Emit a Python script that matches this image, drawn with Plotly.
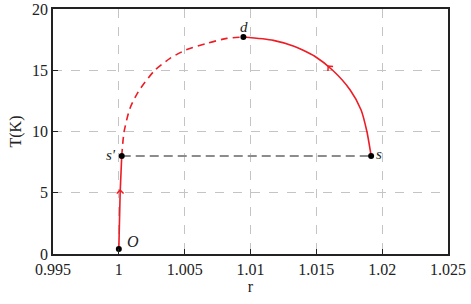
import plotly.graph_objects as go

# O -> s' (solid, rising)
r_os = [1.0000, 1.00005, 1.0001, 1.00022]
T_os = [0.41, 3.0, 5.0, 8.0]

# s' -> d (dashed)
r_sd = [1.00022, 1.0004, 1.00085, 1.00148, 1.0027, 1.00389, 1.00508, 1.00668, 1.0082, 1.00946]
T_sd = [8.0, 9.98, 11.9, 13.25, 14.96, 15.97, 16.65, 17.2, 17.6, 17.71]

# d -> s (solid)
r_ds = [1.00946, 1.01174, 1.0133, 1.01396, 1.01488, 1.01622, 1.01757, 1.0184, 1.01884, 1.01909, 1.01916]
T_ds = [17.71, 17.44, 16.96, 16.65, 16.14, 15.02, 13.39, 11.76, 10.0, 8.49, 8.0]

# s' -- s (horizontal gray dashed)
r_h = [1.00022, 1.01916]
T_h = [8.0, 8.0]

# labelled points
pt_names = ["O", "s'", "d", "s"]
pt_r = [1.0000, 1.00022, 1.00946, 1.01916]
pt_T = [0.41, 8.0, 17.71, 8.0]

x_ticks = [0.995, 1, 1.005, 1.01, 1.015, 1.02, 1.025]
x_tick_text = ["0.995", "1", "1.005", "1.01", "1.015", "1.02", "1.025"]
y_ticks = [0, 5, 10, 15, 20]

red = "#ee1c25"
fig = go.Figure()
fig.add_trace(go.Scatter(x=r_h, y=T_h, mode="lines",
                         line=dict(color="#8c8c8c", width=2, dash="9px,5px")))
fig.add_trace(go.Scatter(x=r_os, y=T_os, mode="lines",
                         line=dict(color=red, width=1.6)))
fig.add_trace(go.Scatter(x=r_sd, y=T_sd, mode="lines", line_shape="spline",
                         line=dict(color=red, width=1.6, dash="7px,5px", smoothing=0.7)))
fig.add_trace(go.Scatter(x=r_ds, y=T_ds, mode="lines", line_shape="spline",
                         line=dict(color=red, width=1.6, smoothing=0.7)))
fig.add_trace(go.Scatter(x=pt_r, y=pt_T, mode="markers",
                         marker=dict(color="black", size=6)))

font_serif = "Liberation Serif"
tc = "#222"
fig.add_annotation(x=pt_r[0], y=pt_T[0], text="<i>O</i>", showarrow=False,
                   xshift=14, yshift=7, font=dict(size=16, family=font_serif, color=tc))
fig.add_annotation(x=pt_r[1], y=pt_T[1], text="<i>s'</i>", showarrow=False,
                   xshift=-11, yshift=1, font=dict(size=15, family=font_serif, color=tc))
fig.add_annotation(x=pt_r[2], y=pt_T[2], text="<i>d</i>", showarrow=False,
                   xshift=1, yshift=10, font=dict(size=15, family=font_serif, color=tc))
fig.add_annotation(x=pt_r[3], y=pt_T[3], text="<i>s</i>", showarrow=False,
                   xshift=8, yshift=2, font=dict(size=15, family=font_serif, color=tc))

# direction arrows (short shafts, pixel offsets)
fig.add_annotation(x=1.0001, y=5.3, ax=0, ay=4, text="", showarrow=True,
                   arrowhead=4, arrowsize=1.1, arrowwidth=1.2, arrowcolor=red)
fig.add_annotation(x=1.01585, y=15.4, ax=3, ay=3.4, text="", showarrow=True,
                   arrowhead=4, arrowsize=1.1, arrowwidth=1.2, arrowcolor=red)

axis_common = dict(showgrid=True, gridcolor="#c4c4c4", griddash="dash", gridwidth=1,
                   zeroline=False, showline=True, linecolor=tc, linewidth=1.6,
                   mirror=True, ticks="inside", ticklen=5, tickcolor=tc,
                   automargin=False,
                   tickfont=dict(family=font_serif, size=16, color=tc))
fig.update_xaxes(range=[0.995, 1.025], tickvals=x_ticks, ticktext=x_tick_text,
                 title=dict(text="r", font=dict(family=font_serif, size=16, color=tc),
                            standoff=4),
                 **axis_common)
fig.update_yaxes(range=[0, 20], tickvals=y_ticks,
                 title=dict(text="T(K)", font=dict(family=font_serif, size=16, color=tc),
                            standoff=6),
                 **axis_common)
fig.update_layout(width=471, height=304, showlegend=False,
                  margin=dict(l=53, r=23, t=9, b=50),
                  plot_bgcolor="white", paper_bgcolor="white")
fig.write_html("out.html", config={"displayModeBar": False},
               post_script="document.body.style.margin='0';document.body.style.padding='0';")
